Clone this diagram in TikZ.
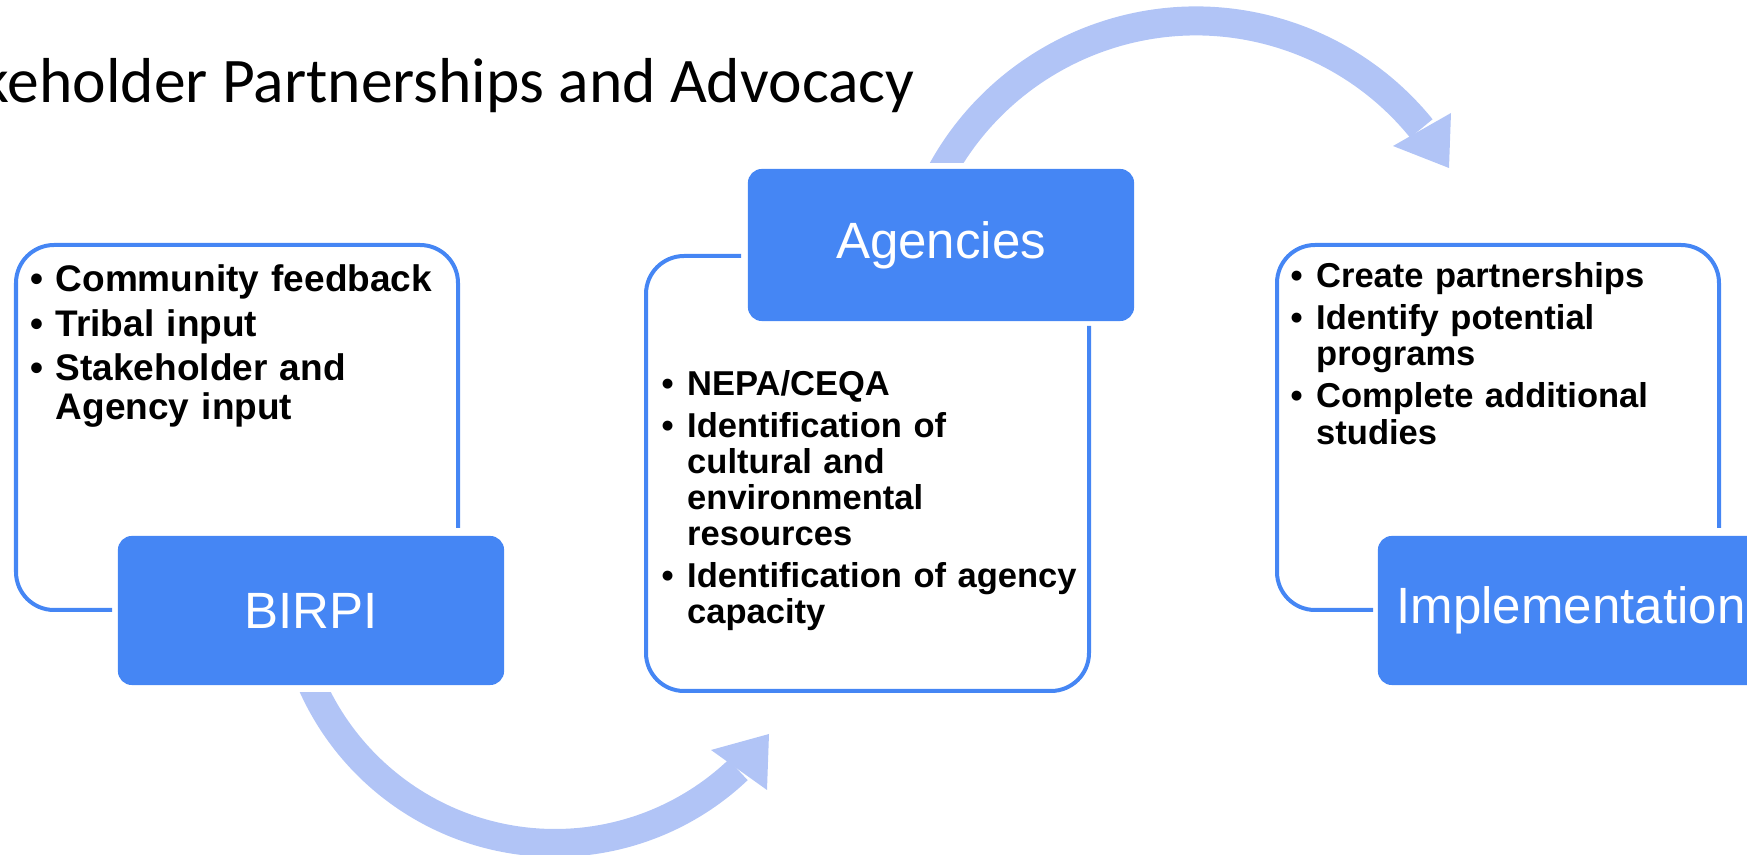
\documentclass[tikz,border=0pt]{standalone}
\usepackage{fontspec}
\setmainfont{Liberation Sans}
\newfontfamily\titlefont{Carlito}
\definecolor{boxblue}{HTML}{4586F4}
\definecolor{arcblue}{HTML}{B1C4F6}
\newcommand{\bitem}[1]{\noindent\hangindent=0.245cm\hangafter=1\makebox[0.245cm][l]{\hspace{-0.01cm}\textbullet}#1\par}

\begin{document}
\begin{tikzpicture}[x=0.01cm,y=-0.01cm,
  headbox/.style={fill=boxblue,text=white,rounded corners=0.14cm,minimum width=3.86cm,minimum height=1.49cm,inner sep=0pt,font=\fontsize{0.51cm}{0.6cm}\selectfont},
  sidebox/.style={draw=boxblue,line width=0.04cm,rounded corners=0.38cm},
  listbox/.style={anchor=north west,text width=4.3cm,align=left,inner sep=0pt},
  swoop/.style={draw=arcblue,line width=0.28cm}]
  \useasboundingbox (0,0) rectangle (1747,855);
  \clip (0,0) rectangle (1747,855);

  \node[anchor=base west,inner sep=0pt,font=\titlefont\fontsize{0.635cm}{0.7cm}\selectfont] (title) at (-100,103) {Stakeholder Partnerships and Advocacy};

  % curved arrows
  \coordinate (c1) at (555,577);
  \coordinate (c2) at (1196,311);
  \begin{scope}
    \clip (0,693) rectangle (1747,855);
    \draw[swoop] (c1) ++(160:266) arc[start angle=160,end angle=46.5,radius=266];
  \end{scope}
  \fill[arcblue] (769,734) -- (711,750) -- (767,790) -- cycle;
  \begin{scope}
    \clip (0,0) rectangle (1747,163);
    \draw[swoop,line width=0.29cm] (c2) ++(200:290) arc[start angle=200,end angle=321,radius=290];
  \end{scope}
  \fill[arcblue] (1449,168) -- (1451,113) -- (1393,146) -- cycle;

  % open frames
  \draw[sidebox] (458,528) -- (458,245) -- (16,245) -- (16,610) -- (112,610);
  \draw[sidebox] (741,256) -- (646,256) -- (646,691) -- (1089,691) -- (1089,326);
  \draw[sidebox] (1719,528) -- (1719,245) -- (1277,245) -- (1277,610) -- (1373,610);

  \node[headbox] (birpi) at (311,610.5) {BIRPI};
  \node[headbox,minimum height=1.52cm] (agencies) at (941,245) {Agencies};
  \node[headbox] (impl) at (1571,610.5) {Implementation};

  \node[listbox,font=\bfseries\fontsize{0.37cm}{0.385cm}\selectfont] (birpilist) at (30.5,264)
    {\setlength{\parskip}{0.06cm}\bitem{Community feedback}\bitem{Tribal input}\bitem{Stakeholder and\newline Agency input}};
  \node[listbox,font=\bfseries\fontsize{0.345cm}{0.36cm}\selectfont] (agencylist) at (662,370)
    {\setlength{\parskip}{0.06cm}\bitem{NEPA/CEQA}\bitem{Identification of\newline cultural and\newline environmental\newline resources}\bitem{Identification of agency\newline capacity}};
  \node[listbox,font=\bfseries\fontsize{0.345cm}{0.362cm}\selectfont] (impllist) at (1291,262)
    {\setlength{\parskip}{0.058cm}\bitem{Create partnerships}\bitem{Identify potential\newline programs}\bitem{Complete additional\newline studies}};
\end{tikzpicture}
\end{document}
